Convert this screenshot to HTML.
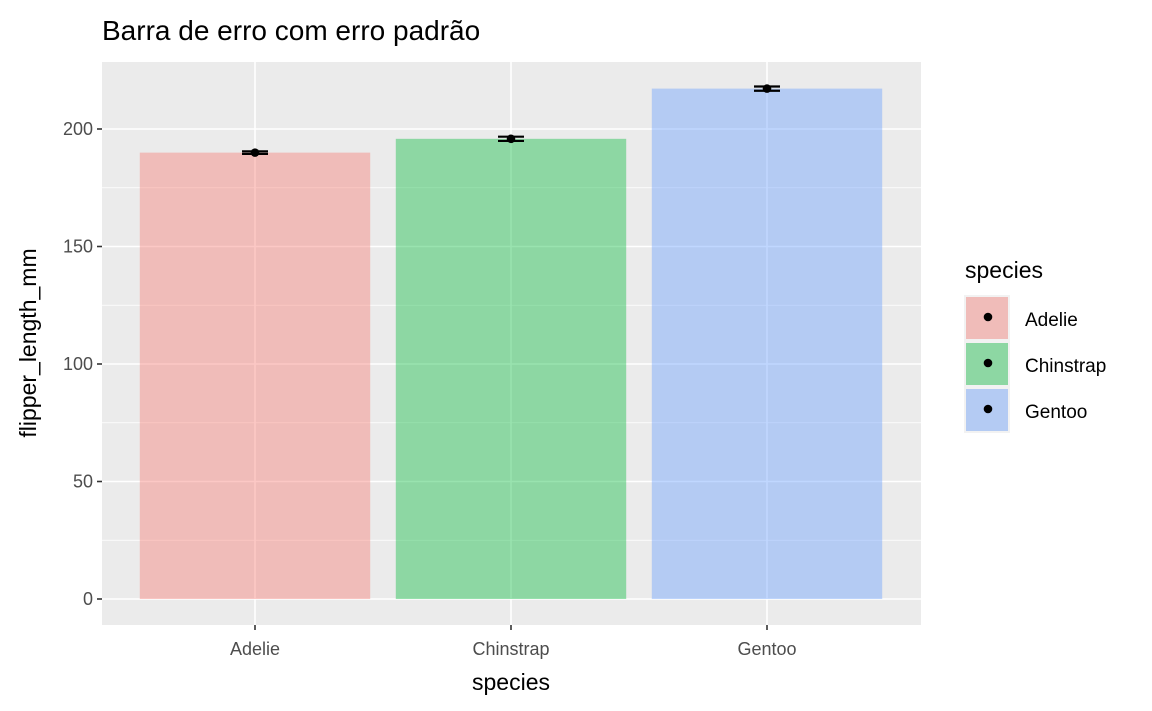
<!DOCTYPE html>
<html><head><meta charset="utf-8"><style>
body{margin:0;background:#fff;}
svg{display:block;font-family:"Liberation Sans",sans-serif;}
</style></head><body>
<svg width="1152" height="711" viewBox="0 0 1152 711" id="c"></svg>
<script>
const categories=["Adelie","Chinstrap","Gentoo"];
const means=[189.95,195.82,217.19];
const ses=[0.55,0.9,0.9];
const colors=["rgba(248,118,109,0.4)","rgba(0,186,56,0.4)","rgba(97,156,255,0.4)"];
const yTicks=[0,50,100,150,200];
const yMinor=[25,75,125,175];
const NS="http://www.w3.org/2000/svg";
const svg=document.getElementById('c');
const px0=102,px1=921,py0=62,py1=625;
const y=v=>599-v*2.35;
const band=256;
const x=i=>255+band*i;
function el(t,a,p){const e=document.createElementNS(NS,t);for(const k in a)e.setAttribute(k,a[k]);(p||svg).appendChild(e);return e;}
let e;
e=el('text',{x:102,y:40,'font-size':28,fill:'#000'});e.textContent="Barra de erro com erro padrão";


e=el('rect',{x:px0,y:py0,width:px1-px0,height:py1-py0,fill:'#EBEBEB'});


yMinor.forEach(v=>{e=el('line',{x1:px0,x2:px1,y1:y(v),y2:y(v),stroke:'#fff','stroke-width':0.8});

});
yTicks.forEach(v=>{e=el('line',{x1:px0,x2:px1,y1:y(v),y2:y(v),stroke:'#fff','stroke-width':1.6});


e=el('line',{x1:px0-5,x2:px0,y1:y(v),y2:y(v),stroke:'#333','stroke-width':1.6});


e=el('text',{x:px0-9,y:y(v)+6,'font-size':18,fill:'#4D4D4D','text-anchor':'end'});e.textContent=v;

});
categories.forEach((c,i)=>{
e=el('line',{x1:x(i),x2:x(i),y1:py0,y2:py1,stroke:'#fff','stroke-width':1.6});


});
categories.forEach((c,i)=>{
const w=band*0.9;
e=el('rect',{x:x(i)-w/2,y:y(means[i]),width:w,height:y(0)-y(means[i]),fill:colors[i]});


const g=el('g',{stroke:'#000','stroke-width':2.2});


el('line',{x1:x(i),x2:x(i),y1:y(means[i]+ses[i]),y2:y(means[i]-ses[i])},g);
el('line',{x1:x(i)-13,x2:x(i)+13,y1:y(means[i]+ses[i]),y2:y(means[i]+ses[i])},g);
el('line',{x1:x(i)-13,x2:x(i)+13,y1:y(means[i]-ses[i]),y2:y(means[i]-ses[i])},g);
e=el('circle',{cx:x(i),cy:y(means[i]),r:4.3,fill:'#000'});


e=el('line',{x1:x(i),x2:x(i),y1:py1,y2:py1+5,stroke:'#333','stroke-width':1.6});


e=el('text',{x:x(i),y:655,'font-size':18,fill:'#4D4D4D','text-anchor':'middle'});e.textContent=c;


});
e=el('text',{x:511,y:690,'font-size':23,fill:'#000','text-anchor':'middle'});e.textContent="species";


e=el('text',{x:0,y:0,'font-size':23,fill:'#000','text-anchor':'middle',transform:'translate(36,343) rotate(-90)'});e.textContent="flipper_length_mm";


e=el('text',{x:965,y:278,'font-size':23,fill:'#000'});e.textContent="species";


categories.forEach((c,i)=>{
const ky=296+i*46;
const g=el('g',{});


el('rect',{x:964,y:ky-1,width:46,height:46,fill:'#F2F2F2'},g);
el('rect',{x:966,y:ky+1,width:42,height:42,fill:'#EBEBEB'},g);
el('rect',{x:966,y:ky+1,width:42,height:42,fill:colors[i]},g);
el('circle',{cx:988,cy:ky+21,r:4.3,fill:'#000'},g);
const t=el('text',{x:1025,y:ky+30,'font-size':19,fill:'#000'},g);t.textContent=c;
});
</script>
</body></html>
